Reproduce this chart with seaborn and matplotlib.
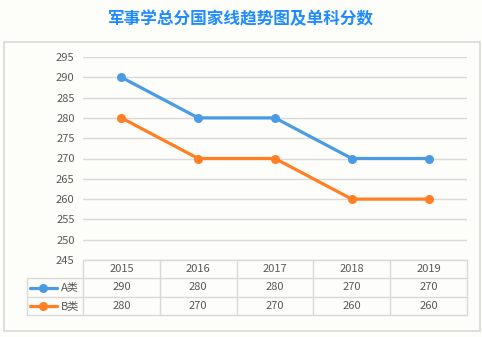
import matplotlib
matplotlib.use('Agg')
import matplotlib.pyplot as plt
import seaborn as sns
import pandas as pd
from matplotlib.patches import Rectangle
from matplotlib.lines import Line2D

# ---- data ----
years = ['2015', '2016', '2017', '2018', '2019']
series_names = ['A类', 'B类']
scores_a = [290, 280, 280, 270, 270]
scores_b = [280, 270, 270, 260, 260]
y_ticks = [245, 250, 255, 260, 265, 270, 275, 280, 285, 290, 295]
title = '军事学总分国家线趋势图及单科分数'

# ---- style ----
BG = '#fdfdfa'
GRID = '#d9d9d9'
TXT = '#595959'
colors = {'A类': '#4a9be3', 'B类': '#ff7f22'}

sns.set_theme(style='white')
plt.rcParams['font.family'] = ['Noto Sans CJK SC', 'DejaVu Sans']

W, H = 482, 337
fig = plt.figure(figsize=(W / 100, H / 100), dpi=100, facecolor=BG)


def fx(px):
    return px / W


def fy(py):
    return 1 - py / H


# outer frame
fig.patches.append(Rectangle((fx(4), fy(331)), fx(480) - fx(4), fy(42) - fy(331),
                             transform=fig.transFigure, fill=False,
                             edgecolor=GRID, linewidth=1.2))

fig.text(0.5, fy(19), title, ha='center', va='center', fontsize=12,
         color='#1f8bff', fontweight='bold')

# ---- line chart ----
ax = fig.add_axes([fx(83), fy(260), fx(467) - fx(83), fy(57) - fy(260)])
ax.set_facecolor(BG)
df = pd.DataFrame({
    'year': years * 2,
    'score': scores_a + scores_b,
    'series': [series_names[0]] * len(years) + [series_names[1]] * len(years),
})
sns.lineplot(data=df, x='year', y='score', hue='series', palette=colors,
             marker='o', markersize=6.5, markeredgewidth=0, linewidth=2.3,
             sort=False, legend=False, ax=ax, zorder=3)
ax.set_xlim(-0.5, len(years) - 0.5)
ax.set_ylim(y_ticks[0], y_ticks[-1])
ax.set_yticks(y_ticks)
ax.set_xticks([])
ax.set_xlabel('')
ax.set_ylabel('')
ax.yaxis.grid(True, color=GRID, linewidth=1)
ax.set_axisbelow(True)
for s in ax.spines.values():
    s.set_visible(False)
ax.tick_params(axis='y', length=0, pad=6, labelsize=8, labelcolor=TXT)

# ---- data table ----
col_w = 76.8
left = -0.5 - 56 / col_w
tax = fig.add_axes([fx(27), fy(315), fx(467) - fx(27), fy(260) - fy(315)])
tax.set_xlim(left, len(years) - 0.5)
tax.set_ylim(3, 0)
tax.axis('off')
lk = dict(color=GRID, linewidth=1, clip_on=False)
tax.plot([-0.5, len(years) - 0.5], [0, 0], **lk)
for r in (1, 2, 3):
    tax.plot([left, len(years) - 0.5], [r, r], **lk)
for i in range(len(years) + 1):
    tax.plot([-0.5 + i, -0.5 + i], [0, 3], **lk)
tax.plot([left, left], [1, 3], **lk)

for i, yr in enumerate(years):
    tax.text(i, 0.5, yr, ha='center', va='center', fontsize=8, color=TXT)
for r, (name, vals) in enumerate(zip(series_names, [scores_a, scores_b]), start=1):
    for i, v in enumerate(vals):
        tax.text(i, r + 0.5, str(v), ha='center', va='center', fontsize=8, color=TXT)
    x0 = left + 3 / col_w
    x1 = left + 30 / col_w
    tax.add_line(Line2D([x0, x1], [r + 0.5, r + 0.5], color=colors[name],
                        linewidth=2.3, clip_on=False))
    tax.plot([(x0 + x1) / 2], [r + 0.5], 'o', color=colors[name], markersize=6.5,
             markeredgewidth=0, clip_on=False)
    tax.text(left + 34 / col_w, r + 0.5, name, ha='left', va='center',
             fontsize=8, color=TXT)

fig.savefig('out.png', dpi=100, facecolor=BG)
